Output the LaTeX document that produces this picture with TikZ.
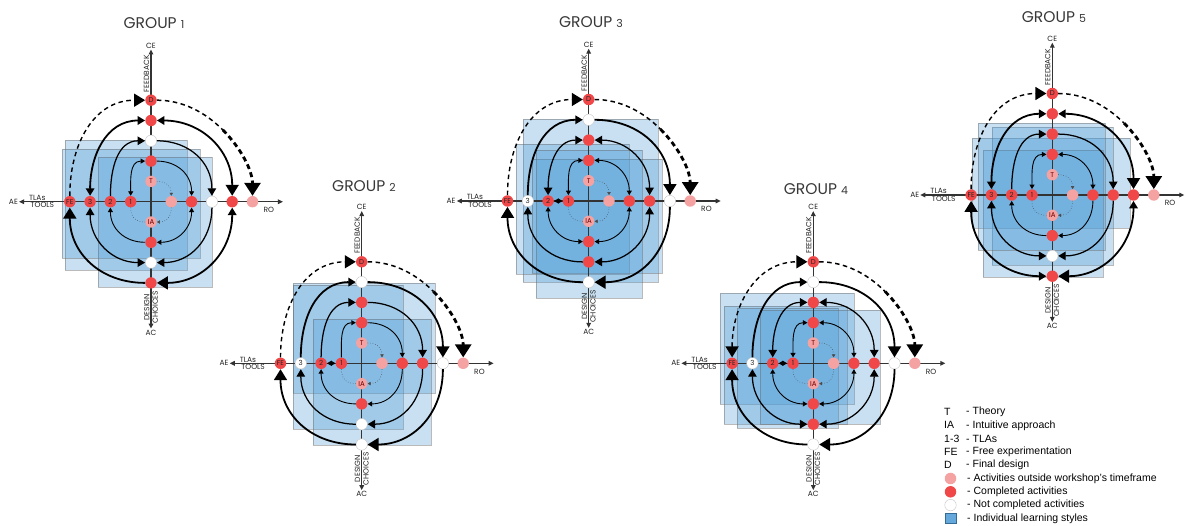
\documentclass[tikz,border=0pt]{standalone}
\usepackage{fontspec}
\setmainfont{Liberation Sans}
\newfontfamily\geo{Poppins}
\usetikzlibrary{arrows.meta}
\definecolor{cred}{HTML}{F04848}
\definecolor{cpink}{HTML}{F4A2A2}
\definecolor{cblue}{HTML}{4A9AD6}
\definecolor{caxis}{HTML}{333333}
\tikzset{
  aT/.tip={Triangle[length=3pt,width=3.4pt]},
  aS/.tip={Triangle[length=4.5pt,width=5pt]},
  aM/.tip={Triangle[length=7.5pt,width=8.5pt]},
  aL/.tip={Triangle[length=11pt,width=13pt]},
  aX/.tip={Triangle[length=13pt,width=16pt]},
  nd/.style={circle, inner sep=0pt, minimum size=11.4pt, font=\geo\fontsize{7}{7}\selectfont, text=black!85},
  nr/.style={nd, fill=cred},
  np/.style={nd, fill=cpink, text=red!45!black},
  nw/.style={nd, fill=white, draw=black!22, line width=0.4pt},
  axis/.style={draw=caxis, line width=1.1pt, {Triangle[length=5pt,width=4.6pt]}-{Triangle[length=5pt,width=4.6pt]}},
  axl/.style={font=\geo\fontsize{7.5}{8}\selectfont, inner sep=1pt, text=black!85},
  r1/.style={draw=black!70, line width=0.55pt, dotted},
  r2/.style={line width=0.9pt},
  r3/.style={line width=1.25pt},
  r4/.style={line width=1.8pt},
  dsh/.style={line width=1.4pt, dash pattern=on 4.5pt off 3.5pt},
  dshA/.style={line width=1.5pt, dash pattern=on 4.5pt off 3.5pt},
  dshB/.style={line width=2.8pt, dash pattern=on 5pt off 3.5pt},
  ls/.style={fill=cblue, fill opacity=0.3, draw=black!60, draw opacity=0.45, line width=0.5pt},
  ttl/.style={font=\geo\fontsize{15.5}{15.5}\selectfont, text=black!78},
  lgk/.style={anchor=west, font=\fontsize{10.5}{11}\selectfont, inner sep=0pt},
}
\newcommand\gaxes[1]{%
  \coordinate (#1N) at (0,7.5);
  \coordinate (#1S) at (0,-6.25);
  \coordinate (#1W) at (-6.5,0);
  \coordinate (#1E) at (6.5,0);
  \coordinate (#1M) at (3.536,3.536);
  \draw[axis] (#1W) -- (#1E);
  \draw[axis] (#1S) -- (#1N);
  \node[axl, above] (#1ce) at (#1N) {CE};
  \node[axl, below] (#1ac) at (#1S) {AC};
  \node[axl, left] (#1ae) at (#1W) {AE};
  \node[axl] (#1ro) at (5.8,-0.4) {RO};
  \node[axl, above, inner sep=0.8pt] (#1tl) at (-5.6,0) {TLAs};
  \node[axl, below, inner sep=0.8pt] (#1to) at (-5.35,0) {TOOLS};
  \node[axl, rotate=90, anchor=south, inner sep=1.6pt] (#1fb) at (0,6.3) {FEEDBACK};
  \node[axl, rotate=90, align=center, inner sep=0pt, font=\geo\fontsize{7.5}{8.5}\selectfont] (#1dc) at (0,-5.2) {DESIGN\\CHOICES};
}
\newcommand\gnodes[2]{%
  \foreach \nm/\xx/\yy/\st/\lb in {#2}{%
    \edef\gtmp{\noexpand\node[\st] (#1\nm) at (\xx,\yy) {\lb};}\gtmp}}
\newcommand\arcTL[3]{\draw[#1] (#2) to[out=90,in=180,looseness=1.08] (#3);}
\newcommand\arcTR[3]{\draw[#1] (#2) to[out=0,in=90,looseness=1.08] (#3);}
\newcommand\arcBR[3]{\draw[#1] (#2) to[out=-90,in=0,looseness=1.08] (#3);}
\newcommand\arcBL[3]{\draw[#1] (#2) to[out=180,in=-90,looseness=1.08] (#3);}
\newcommand\gdash[1]{%
  \draw[dshA] (#1U5) to[out=0,in=135,looseness=0.9] (#1M);
  \draw[dshB,-aX] (#1M) to[out=-45,in=90,looseness=0.9] (#1R5);}
\newcommand\gdots[1]{%
  \draw[r1,-aT] (#1U1) to[out=0,in=90,looseness=1.2] (#1R1);
  \draw[r1,-aT] (#1R1) to[out=-90,in=0,looseness=1.2] (#1B1);
  \draw[r1] (#1L1) to[out=-90,in=180,looseness=1.2] (#1B1);}
\begin{document}
\begin{tikzpicture}[x=1pt,y=1pt]
\useasboundingbox (0,0) rectangle (1187,-526);
\fill[white] (0,0) rectangle (1187,-526);
% learning style squares
\draw[ls] (65,-140) rectangle (187,-270);
\draw[ls] (62,-149) rectangle (200,-258);
\draw[ls] (98,-157) rectangle (212,-287);
\draw[ls] (293,-283) rectangle (435,-393);
\draw[ls] (293,-285) rectangle (403,-429);
\draw[ls] (313,-319) rectangle (431,-445);
\draw[ls] (523,-119) rectangle (658,-282);
\draw[ls] (516,-144) rectangle (629,-274);
\draw[ls] (532,-159) rectangle (662,-273);
\draw[ls] (536,-150) rectangle (642,-298);
\draw[ls] (720,-293) rectangle (854,-404);
\draw[ls] (724,-306) rectangle (847,-424);
\draw[ls] (737,-308) rectangle (838,-428);
\draw[ls] (760,-310) rectangle (880,-424);
\draw[ls] (972,-138) rectangle (1130,-228);
\draw[ls] (992,-127) rectangle (1113,-265);
\draw[ls] (983,-150) rectangle (1103,-277);
\draw[ls] (978,-123) rectangle (1105,-250);
% titles
\node[ttl] (t1) at (154,-23) {GROUP {\fontsize{11}{11}\selectfont 1}};
\node[ttl] (t2) at (364,-186) {GROUP {\fontsize{11}{11}\selectfont 2}};
\node[ttl] (t3) at (591,-22) {GROUP {\fontsize{11}{11}\selectfont 3}};
\node[ttl] (t4) at (816,-189) {GROUP {\fontsize{11}{11}\selectfont 4}};
\node[ttl] (t5) at (1054,-17) {GROUP {\fontsize{11}{11}\selectfont 5}};
% ---------------- GROUP 1
\begin{scope}[shift={(151,-201.7)}, x=20.3pt, y=20.3pt]
\gaxes{a}
\gnodes{a}{U5/0/5/nr/D, U4/0/4/nr/, U3/0/3/nw/, U2/0/2/nr/, U1/0/1/np/T, B1/0/-1/np/IA, B2/0/-2/nr/, B3/0/-3/nw/, B4/0/-4/nr/, L4/-4/0/nr/FE, L3/-3/0/nr/3, L2/-2/0/nr/2, L1/-1/0/nr/1, R1/1/0/np/, R2/2/0/nr/, R3/3/0/nw/, R4/4/0/nr/, R5/5/0/np/}
\arcTL{dsh,-aL}{aL4}{aU5}
\gdash{a}
\arcTL{r4,aM-aM}{aL3}{aU4}
\arcTR{r4,aM-aL}{aU4}{aR4}
\arcBR{r4,aM-aL}{aR4}{aB4}
\arcBL{r4,-aL}{aB4}{aL4}
\arcTL{r3,-aM}{aL2}{aU3}
\arcTR{r3,-aM}{aU3}{aR3}
\arcBR{r3,-aM}{aR3}{aB3}
\arcBL{r3,aM-aM}{aB3}{aL3}
\arcTL{r2,aS-aS}{aL1}{aU2}
\arcTR{r2,-aS}{aU2}{aR2}
\arcBR{r2,aS-aS}{aR2}{aB2}
\arcBL{r2,-aS}{aB2}{aL2}
\gdots{a}
\end{scope}
% ---------------- GROUP 2
\begin{scope}[shift={(361.7,-363.3)}, x=20.3pt, y=20.3pt]
\gaxes{b}
\gnodes{b}{U5/0/5/nr/D, U4/0/4/nw/, U3/0/3/nr/, U2/0/2/nr/, U1/0/1/np/T, B1/0/-1/np/IA, B2/0/-2/nr/, B3/0/-3/nw/, B4/0/-4/nw/, L4/-4/0/nr/FE, L3/-3/0/nw/3, L2/-2/0/nr/2, L1/-1/0/nr/1, R1/1/0/np/, R2/2/0/nr/, R3/3/0/nr/, R4/4/0/nw/, R5/5/0/np/}
\arcTL{dsh,-aL}{bL4}{bU5}
\gdash{b}
\arcTL{r4,-aM}{bL3}{bU4}
\arcTR{r4,-aL}{bU4}{bR4}
\arcBR{r4,-aL}{bR4}{bB4}
\arcBL{r4,-aL}{bB4}{bL4}
\arcTL{r3,-aM}{bL2}{bU3}
\arcTR{r3,-aM}{bU3}{bR3}
\arcBR{r3,-aM}{bR3}{bB3}
\arcBL{r3,-aM}{bB3}{bL3}
\arcTL{r2,-aS}{bL1}{bU2}
\arcTR{r2,-aS}{bU2}{bR2}
\arcBR{r2,-aS}{bR2}{bB2}
\arcBL{r2,-aS}{bB2}{bL2}
\draw[r2,aS-aS] (bL2) -- (bL1);
\gdots{b}
\end{scope}
% ---------------- GROUP 3
\begin{scope}[shift={(588.7,-201)}, x=20.3pt, y=20.3pt]
\gaxes{c}
\gnodes{c}{U5/0/5/nr/D, U4/0/4/nw/, U3/0/3/nr/, U2/0/2/nr/, U1/0/1/np/T, B1/0/-1/np/IA, B2/0/-2/nr/, B3/0/-3/nr/, B4/0/-4/nw/, L4/-4/0/nr/FE, L3/-3/0/nw/3, L2/-2/0/nr/2, L1/-1/0/nr/1, R1/1/0/np/, R2/2/0/nr/, R3/3/0/nr/, R4/4/0/nw/, R5/5/0/np/}
\arcTL{dsh,-aL}{cL4}{cU5}
\gdash{c}
\arcTL{r4,-aM}{cL3}{cU4}
\arcTR{r4,-aL}{cU4}{cR4}
\arcBR{r4,-aL}{cR4}{cB4}
\arcBL{r4,-aL}{cB4}{cL4}
\arcTL{r3,aM-aM}{cL2}{cU3}
\arcTR{r3,aM-aM}{cU3}{cR3}
\arcBR{r3,aM-aM}{cR3}{cB3}
\arcBL{r3,-aM}{cB3}{cL3}
\arcTL{r2,aS-aS}{cL1}{cU2}
\arcTR{r2,aS-aS}{cU2}{cR2}
\arcBR{r2,aS-aS}{cR2}{cB2}
\arcBL{r2,aS-aS}{cB2}{cL2}
\draw[r2,aS-aS] (cL2) -- (cL1);
\gdots{c}
\end{scope}
% ---------------- GROUP 4
\begin{scope}[shift={(813.3,-363.3)}, x=20.3pt, y=20.3pt]
\gaxes{d}
\gnodes{d}{U5/0/5/nr/D, U4/0/4/nw/, U3/0/3/nr/, U2/0/2/nr/, U1/0/1/np/T, B1/0/-1/np/IA, B2/0/-2/nr/, B3/0/-3/nr/, B4/0/-4/nw/, L4/-4/0/nr/FE, L3/-3/0/nw/3, L2/-2/0/nr/2, L1/-1/0/nr/1, R1/1/0/np/, R2/2/0/nr/, R3/3/0/nr/, R4/4/0/nw/, R5/5/0/np/}
\arcTL{dsh,aL-aL}{dL4}{dU5}
\gdash{d}
\arcTL{r4,-aM}{dL3}{dU4}
\arcTR{r4,-aL}{dU4}{dR4}
\arcBR{r4,-aL}{dR4}{dB4}
\arcBL{r4,-aL}{dB4}{dL4}
\arcTL{r3,aM-aM}{dL2}{dU3}
\arcTR{r3,aM-aM}{dU3}{dR3}
\arcBR{r3,aM-aM}{dR3}{dB3}
\arcBL{r3,aM-aM}{dB3}{dL3}
\arcTL{r2,aS-aS}{dL1}{dU2}
\arcTR{r2,aS-aS}{dU2}{dR2}
\arcBR{r2,aS-aS}{dR2}{dB2}
\arcBL{r2,aS-aS}{dB2}{dL2}
\draw[r2,aS-aS] (dL2) -- (dL1);
\gdots{d}
\end{scope}
% ---------------- GROUP 5
\begin{scope}[shift={(1052.3,-195)}, x=20.3pt, y=20.3pt]
\gaxes{e}
\gnodes{e}{U5/0/5/nr/D, U4/0/4/nr/, U3/0/3/nr/, U2/0/2/nr/, U1/0/1/np/T, B1/0/-1/np/IA, B2/0/-2/nr/, B3/0/-3/nw/, B4/0/-4/nr/, L4/-4/0/nr/FE, L3/-3/0/nr/3, L2/-2/0/nr/2, L1/-1/0/nr/1, R1/1/0/np/, R2/2/0/nr/, R3/3/0/nr/, R4/4/0/nr/, R5/5/0/np/}
\arcTL{dsh,-aL}{eL4}{eU5}
\gdash{e}
\arcTL{r4,aM-aM}{eL3}{eU4}
\arcTR{r4,aM-aL}{eU4}{eR4}
\arcBR{r4,aM-aL}{eR4}{eB4}
\arcBL{r4,aM-aL}{eB4}{eL4}
\arcTL{r3,-aM}{eL2}{eU3}
\arcTR{r3,-aM}{eU3}{eR3}
\arcBR{r3,-aM}{eR3}{eB3}
\arcBL{r3,aM-aM}{eB3}{eL3}
\arcTL{r2,aS-aS}{eL1}{eU2}
\arcTR{r2,aS-aS}{eU2}{eR2}
\arcBR{r2,-aS}{eR2}{eB2}
\arcBL{r2,-aS}{eB2}{eL2}
\gdots{e}
\end{scope}
% ---------------- legend
\node[lgk] (k1) at (944,-412) {T};
\node[lgk] (k2) at (944,-425.3) {IA};
\node[lgk] (k3) at (944,-438.6) {1-3};
\node[lgk] (k4) at (944,-451.9) {FE};
\node[lgk] (k5) at (944,-465.2) {D};
\node[circle, fill=cpink, minimum size=11.5pt, inner sep=0pt] (k6) at (950.5,-478.5) {};
\node[circle, fill=cred, minimum size=11.5pt, inner sep=0pt] (k7) at (950.5,-491.8) {};
\node[circle, fill=white, draw=black!22, line width=0.4pt, minimum size=11.5pt, inner sep=0pt] (k8) at (950.5,-505.1) {};
\node[rectangle, fill=cblue!85, draw=cblue!70!black, line width=0.3pt, minimum size=10.5pt, inner sep=0pt] (k9) at (950.5,-518.4) {};
\node[lgk] (v1) at (966,-412) {- Theory};
\node[lgk] (v2) at (966,-425.3) {- Intuitive approach};
\node[lgk] (v3) at (966,-438.6) {- TLAs};
\node[lgk] (v4) at (966,-451.9) {- Free experimentation};
\node[lgk] (v5) at (966,-465.2) {- Final design};
\node[lgk] (v6) at (967,-478.5) {- Activities outside workshop's timeframe};
\node[lgk] (v7) at (967,-491.8) {- Completed activities};
\node[lgk] (v8) at (967,-505.1) {- Not completed activities};
\node[lgk] (v9) at (967,-518.4) {- Individual learning styles};
\end{tikzpicture}
\end{document}
